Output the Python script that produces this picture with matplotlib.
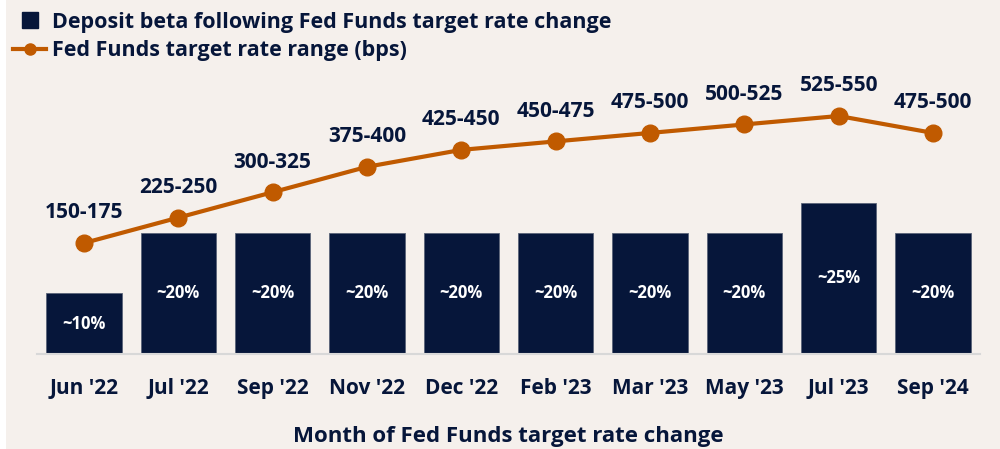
import matplotlib.pyplot as plt
from matplotlib.patches import Rectangle
from matplotlib.lines import Line2D

# data
months = ["Jun '22", "Jul '22", "Sep '22", "Nov '22", "Dec '22",
          "Feb '23", "Mar '23", "May '23", "Jul '23", "Sep '24"]
beta = [10, 20, 20, 20, 20, 20, 20, 20, 25, 20]
beta_labels = ["~10%", "~20%", "~20%", "~20%", "~20%",
               "~20%", "~20%", "~20%", "~25%", "~20%"]
rate_low = [150, 225, 300, 375, 425, 450, 475, 500, 525, 475]
rate_high = [175, 250, 325, 400, 450, 475, 500, 525, 550, 500]
rate_mid = [(a + b) / 2 for a, b in zip(rate_low, rate_high)]

navy = '#06163a'
orange = '#c05a00'
bg = '#f5f0ec'

plt.rcParams['font.family'] = ['Open Sans', 'DejaVu Sans']
plt.rcParams['font.weight'] = 'bold'

fig = plt.figure(figsize=(10, 4.49), dpi=100, facecolor=bg)
fig.patches.append(Rectangle((0, 0), 0.006, 1, transform=fig.transFigure,
                             facecolor='white', edgecolor='none', zorder=0))

ax = fig.add_axes([0.0368, 0.2116, 0.9434, 0.6548])
ax.set_facecolor('none')
x = list(range(len(months)))
ax.bar(x, beta, width=0.8, color=navy, edgecolor='#5a6478', linewidth=0.6, zorder=2)
for xi, v, lab in zip(x, beta, beta_labels):
    ax.text(xi, v / 2, lab, color='white', ha='center', va='center',
            fontsize=12, fontweight='bold', zorder=3)
ax.set_xlim(-0.5, 9.5)
ax.set_ylim(0, 48.6)
ax.set_yticks([])
for s in ['top', 'right', 'left']:
    ax.spines[s].set_visible(False)
ax.spines['bottom'].set_color('#d8d8d8')
ax.spines['bottom'].set_linewidth(1.5)
ax.set_xticks(x)
ax.set_xticklabels(months, fontsize=15, fontweight='bold', color=navy)
ax.tick_params(axis='x', length=0, pad=17)
ax.set_xlabel('Month of Fed Funds target rate change', fontsize=16,
              fontweight='bold', color=navy, labelpad=20)

ax2 = ax.twinx()
ax2.set_ylim(-165, 702.8)
ax2.axis('off')
ax2.plot(x, rate_mid, color=orange, linewidth=3, marker='o', markersize=12, zorder=4)
for xi, v, lo, hi in zip(x, rate_mid, rate_low, rate_high):
    ax2.text(xi, v + 89, f'{lo}-{hi}', color=navy,
             ha='center', va='center', fontsize=15, fontweight='bold')

handles = [Line2D([], [], color=navy, marker='s', linestyle='none', markersize=11),
           Line2D([], [], color=orange, marker='o', linewidth=3, markersize=8)]
fig.legend(handles, ['Deposit beta following Fed Funds target rate change',
                     'Fed Funds target rate range (bps)'],
           loc='upper left', bbox_to_anchor=(-0.006, 1.017), frameon=False,
           prop={'size': 15.5, 'weight': 'bold'}, labelcolor=navy,
           handlelength=1.5, handletextpad=0.3, labelspacing=0.35)

fig.savefig('out.png', dpi=100, facecolor=bg)
